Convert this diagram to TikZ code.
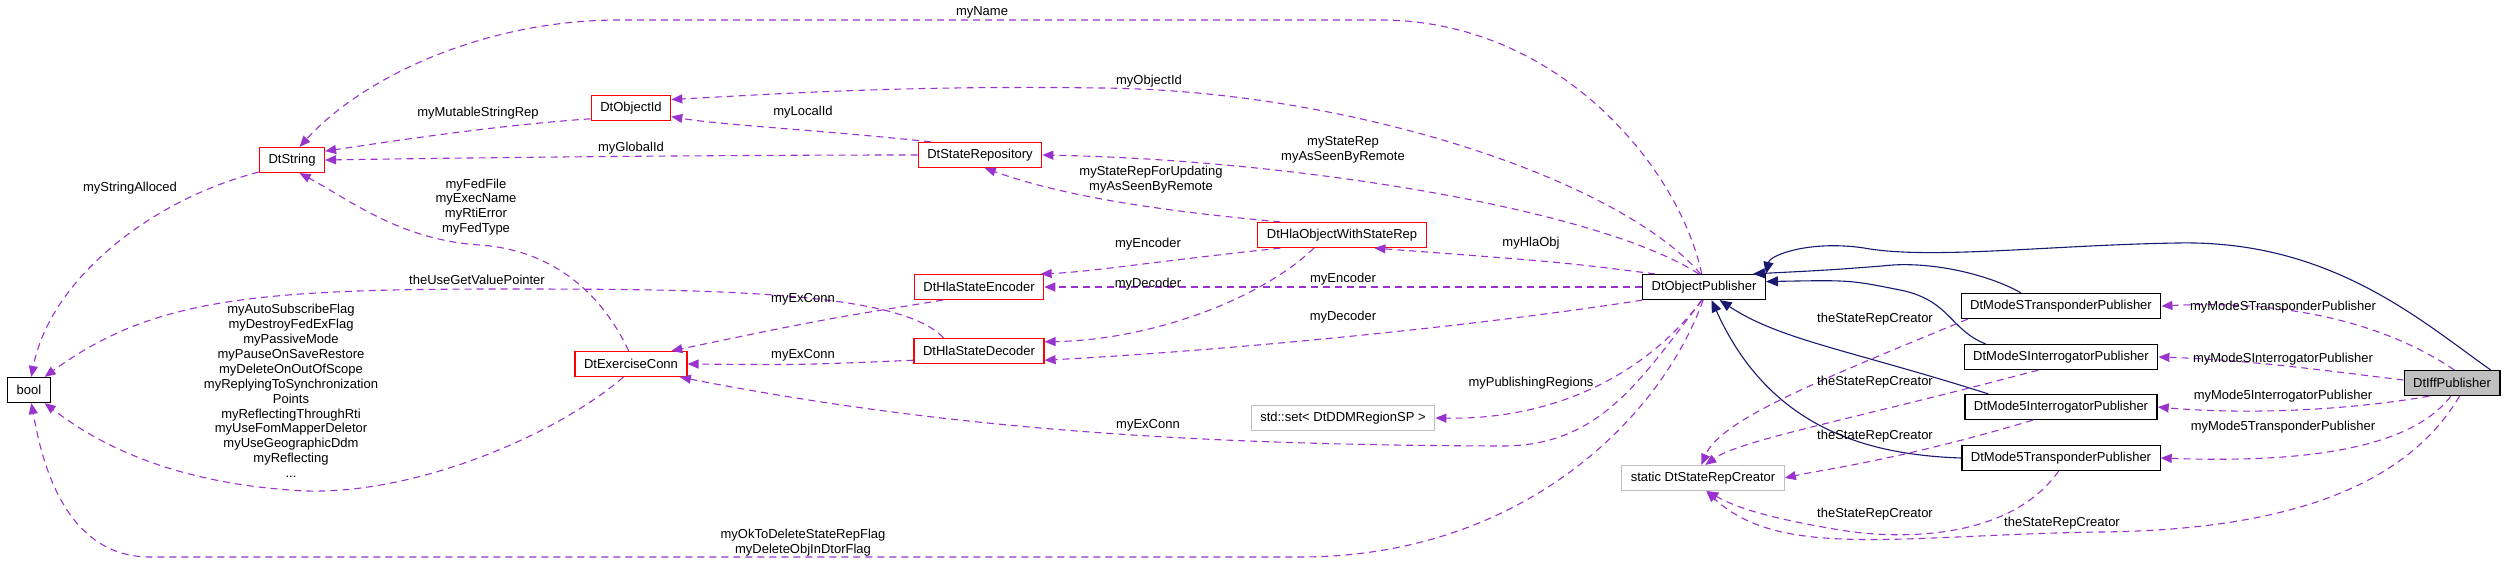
\documentclass[tikz,border=0pt]{standalone}
\usepackage{fontspec}
\setmainfont{Liberation Sans}
\usetikzlibrary{arrows.meta,calc}
\definecolor{dep}{HTML}{9A32CD}
\definecolor{inh}{HTML}{191970}
\begin{document}
\begin{tikzpicture}[x=1pt,y=-1pt,
  every node/.style={font=\fontsize{13}{14.9}\selectfont},
  box/.style={draw,line width=1.2pt,minimum height=25pt,inner xsep=9pt,inner ysep=0pt,fill=white},
  redbox/.style={box,draw=red},
  graybox/.style={box,draw=black!25},
  lbl/.style={align=center,inner sep=0pt},
  dep/.style={draw=dep,dashed,dash pattern=on 7pt off 5pt,line width=1.1pt,-{Triangle[length=11pt,width=9pt,fill=dep]}},
  inh/.style={draw=inh,line width=1.1pt,-{Triangle[length=12pt,width=10pt,fill=inh]}}]
\useasboundingbox (0,0) rectangle (2509,564);
% nodes
\node[box] (bool) at (29,390) {bool};
\node[redbox] (Str) at (292,160) {DtString};
\node[redbox] (Oid) at (631,108) {DtObjectId};
\node[redbox] (Rep) at (980,155) {DtStateRepository};
\node[redbox] (Enc) at (979,287) {DtHlaStateEncoder};
\node[redbox] (Dec) at (979,351) {DtHlaStateDecoder};
\node[redbox] (Exc) at (631,364) {DtExerciseConn};
\node[redbox] (Hla) at (1342,235) {DtHlaObjectWithStateRep};
\node[box] (Pub) at (1704,287) {DtObjectPublisher};
\node[graybox] (Set) at (1343,418) {std::set< DtDDMRegionSP >};
\node[graybox] (SRC) at (1703,478) {static DtStateRepCreator};
\node[box] (MST) at (2061,306) {DtModeSTransponderPublisher};
\node[box] (MSI) at (2061,357) {DtModeSInterrogatorPublisher};
\node[box] (M5I) at (2061,407) {DtMode5InterrogatorPublisher};
\node[box] (M5T) at (2061,458) {DtMode5TransponderPublisher};
\node[box,fill=black!25] (Iff) at (2452,383) {DtIffPublisher};
% inheritance
\draw[inh] (Iff.north east) ++(-10,0) .. controls (2420,320) and (2330,240) .. (2178,243)
   .. controls (2050,245) and (1930,260) .. (1864,248) .. controls (1810,240) and (1770,255) .. (Pub.north east);
\draw[inh] (MST.north) ++(-40,0) .. controls (1990,275) and (1930,260) .. (1882,266) .. controls (1830,270) .. (Pub.15);
\draw[inh] (MSI.north west) ++(22,0) .. controls (1950,330) and (1950,300) .. (1900,290) .. controls (1850,280) .. (Pub.5);
\draw[inh] (M5I.north west) ++(24,0) .. controls (1850,350) and (1780,340) .. (Pub.-40);
\draw[inh] (M5T.west) .. controls (1870,455) and (1770,430) .. (Pub.-60);
% dependencies
\draw[dep] (Pub.100) .. controls (1680,170) and (1560,20) .. (1380,20) -- (620,20) .. controls (480,20) and (360,80) .. (Str.60);
\draw[dep] (Pub.105) .. controls (1620,180) and (1350,90) .. (1100,88) .. controls (900,85) and (760,95) .. (Oid.12);
\draw[dep] (Rep.165) .. controls (820,130) and (720,125) .. (Oid.-12);
\draw[dep] (Oid.-165) .. controls (500,125) and (400,140) .. (Str.15);
\draw[dep] (Rep.west) .. controls (700,155) and (450,158) .. (Str.east);
\draw[dep] (Str.200) .. controls (150,200) and (50,280) .. (bool.80);
\draw[dep] (Pub.112) .. controls (1600,210) and (1300,160) .. (Rep.east);
\draw[dep] (Hla.168) .. controls (1150,210) and (1060,195) .. (Rep.-70);
\draw[dep] (Hla.192) .. controls (1150,262) and (1090,272) .. (Enc.12);
\draw[dep] (Hla.-155) .. controls (1260,300) and (1150,340) .. (Dec.8);
\draw[dep] (Pub.west) -- (Enc.east);
\draw[dep] (Pub.192) .. controls (1450,330) and (1200,352) .. (Dec.-8);
\draw[dep] (Pub.165) .. controls (1560,262) .. (Hla.-22);
\draw[dep] (Pub.-98) .. controls (1640,380) and (1600,447) .. (1500,446) .. controls (1200,445) and (950,430) .. (Exc.-15);
\draw[dep] (Pub.-100) .. controls (1650,370) and (1560,420) .. (Set.east);
\draw[dep] (Pub.-94) .. controls (1660,420) and (1520,557) .. (1300,557) -- (150,557) .. controls (60,557) and (40,450) .. (bool.-80);
\draw[dep] (Enc.200) .. controls (820,320) .. (Exc.18);
\draw[dep] (Dec.188) .. controls (800,365) .. (Exc.east);
\draw[dep] (Dec.north west) ++(30,0) .. controls (900,290) and (700,289) .. (500,289) .. controls (250,289) and (150,300) .. (bool.40);
\draw[dep] (Exc.100) .. controls (600,290) and (550,250) .. (480,245) .. controls (400,240) and (350,200) .. (Str.-60);
\draw[dep] (Exc.-120) .. controls (550,440) and (400,500) .. (290,490) .. controls (150,480) and (80,430) .. (bool.-40);
\draw[dep] (MST.-172) .. controls (1820,380) and (1720,420) .. (SRC.97);
\draw[dep] (MSI.-150) .. controls (1850,420) and (1740,440) .. (SRC.80);
\draw[dep] (M5I.-155) .. controls (1900,460) and (1820,470) .. (SRC.east);
\draw[dep] (M5T.-100) .. controls (2010,540) and (1900,540) .. (1840,530) .. controls (1780,520) and (1740,510) .. (SRC.-72);
\draw[dep] (Iff.-60) .. controls (2410,480) and (2300,530) .. (2100,532) .. controls (1900,535) and (1780,560) .. (SRC.-76);
\draw[dep] (Iff.80) .. controls (2380,320) and (2280,300) .. (MST.east);
\draw[dep] (Iff.west) ++(0,-3) .. controls (2320,370) and (2250,360) .. (MSI.east);
\draw[dep] (Iff.-150) .. controls (2350,410) and (2250,415) .. (M5I.east);
\draw[dep] (Iff.-95) .. controls (2410,450) and (2300,463) .. (M5T.east);
% labels
\node[lbl] (l1) at (982,12) {myName};
\node[lbl] (l2) at (478,113) {myMutableStringRep};
\node[lbl] (l3) at (803,112) {myLocalId};
\node[lbl] (l4) at (631,148) {myGlobalId};
\node[lbl] (l5) at (130,188) {myStringAlloced};
\node[lbl] (l6) at (476,207) {myFedFile\\myExecName\\myRtiError\\myFedType};
\node[lbl] (l7) at (477,280) {theUseGetValuePointer};
\node[lbl] (l8) at (803,299) {myExConn};
\node[lbl] (l9) at (803,355) {myExConn};
\node[lbl] (l10) at (291,391) {myAutoSubscribeFlag\\myDestroyFedExFlag\\myPassiveMode\\myPauseOnSaveRestore\\myDeleteOnOutOfScope\\myReplyingToSynchronization\\Points\\myReflectingThroughRti\\myUseFomMapperDeletor\\myUseGeographicDdm\\myReflecting\\...};
\node[lbl] (l11) at (803,543) {myOkToDeleteStateRepFlag\\myDeleteObjInDtorFlag};
\node[lbl] (l12) at (1149,81) {myObjectId};
\node[lbl] (l13) at (1343,150) {myStateRep\\myAsSeenByRemote};
\node[lbl] (l14) at (1151,180) {myStateRepForUpdating\\myAsSeenByRemote};
\node[lbl] (l15) at (1531,243) {myHlaObj};
\node[lbl] (l16) at (1148,244) {myEncoder};
\node[lbl] (l17) at (1148,284) {myDecoder};
\node[lbl] (l18) at (1343,279) {myEncoder};
\node[lbl] (l19) at (1343,317) {myDecoder};
\node[lbl] (l20) at (1531,383) {myPublishingRegions};
\node[lbl] (l21) at (1148,425) {myExConn};
\node[lbl] (l22) at (1875,319) {theStateRepCreator};
\node[lbl] (l23) at (1875,382) {theStateRepCreator};
\node[lbl] (l24) at (1875,436) {theStateRepCreator};
\node[lbl] (l25) at (1875,514) {theStateRepCreator};
\node[lbl] (l26) at (2062,523) {theStateRepCreator};
\node[lbl] (l27) at (2283,307) {myModeSTransponderPublisher};
\node[lbl] (l28) at (2283,359) {myModeSInterrogatorPublisher};
\node[lbl] (l29) at (2283,396) {myMode5InterrogatorPublisher};
\node[lbl] (l30) at (2283,427) {myMode5TransponderPublisher};
\end{tikzpicture}
\end{document}
